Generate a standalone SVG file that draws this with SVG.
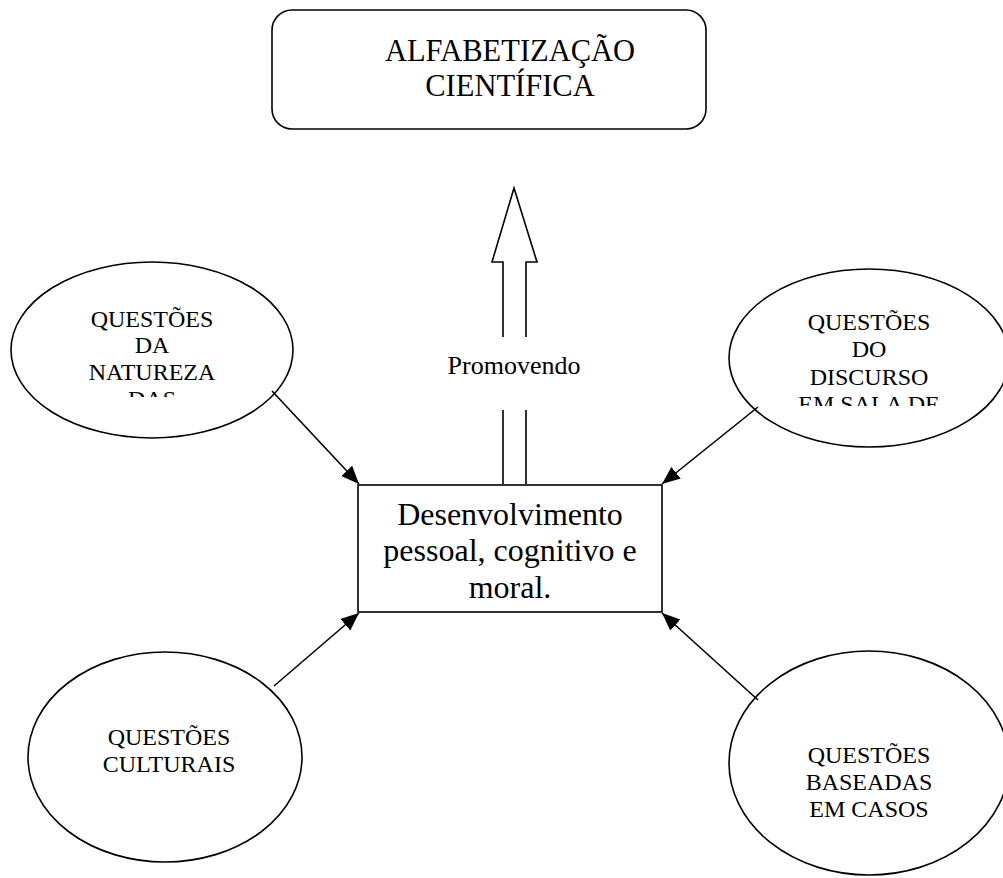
<svg xmlns="http://www.w3.org/2000/svg" width="1003" height="878" viewBox="0 0 1003 878">
  <style>
    .shape { fill: #ffffff; stroke: #000000; stroke-width: 1.6; }
    .line { fill: none; stroke: #000000; stroke-width: 1.6; }
    .t { font-family: "Liberation Serif", "Times New Roman", serif; fill: #000000; text-anchor: middle; }
    .title { font-size: 30.5px; }
    .center { font-size: 32px; }
    .topic { font-size: 24px; }
    .label { font-size: 26px; }
  </style>
  <defs>
    <marker id="head" markerUnits="userSpaceOnUse" markerWidth="20" markerHeight="16" refX="18" refY="7.5" orient="auto">
      <path d="M0,0 L18,7.5 L0,15 z" fill="#000000"/>
    </marker>
    <clipPath id="clip-natureza"><rect x="40" y="290" width="230" height="107"/></clipPath>
    <clipPath id="clip-discurso"><rect x="760" y="290" width="230" height="116"/></clipPath>
  </defs>
  <rect width="1003" height="878" fill="#ffffff"/>

  <!-- goal box -->
  <g id="alfabetizacao">
    <rect class="shape" x="272" y="10" width="434" height="119" rx="20" ry="20"/>
    <text class="t title" x="510" y="61">ALFABETIZAÇÃO</text>
    <text class="t title" x="510" y="96">CIENTÍFICA</text>
  </g>

  <!-- hollow block arrow with its label -->
  <g id="promovendo">
    <path class="line" d="M503,337 L503,262 L492,262 L514,188 L537,262 L526,262 L526,337"/>
    <path class="line" d="M503,410 L503,484 M526,410 L526,484"/>
    <text class="t label" x="514" y="374">Promovendo</text>
  </g>

  <!-- central box -->
  <g id="desenvolvimento">
    <rect class="shape" x="358" y="485" width="304" height="127"/>
    <text class="t center" x="510" y="525">Desenvolvimento</text>
    <text class="t center" x="510" y="561">pessoal, cognitivo e</text>
    <text class="t center" x="510" y="598">moral.</text>
  </g>

  <g id="natureza">
    <ellipse class="shape" cx="152" cy="350" rx="141" ry="88"/>
    <g clip-path="url(#clip-natureza)">
      <text class="t topic" x="152" y="327">QUESTÕES</text>
      <text class="t topic" x="152" y="353">DA</text>
      <text class="t topic" x="152" y="380">NATUREZA</text>
      <text class="t topic" x="152" y="407">DAS</text>
    </g>
  </g>

  <g id="discurso">
    <ellipse class="shape" cx="869" cy="358" rx="140" ry="89"/>
    <g clip-path="url(#clip-discurso)">
      <text class="t topic" x="869" y="330">QUESTÕES</text>
      <text class="t topic" x="869" y="357">DO</text>
      <text class="t topic" x="869" y="385">DISCURSO</text>
      <text class="t topic" x="869" y="412">EM SALA DE</text>
    </g>
  </g>

  <g id="culturais">
    <ellipse class="shape" cx="165" cy="757" rx="137" ry="105"/>
    <text class="t topic" x="169" y="745">QUESTÕES</text>
    <text class="t topic" x="169" y="772">CULTURAIS</text>
  </g>

  <g id="casos">
    <ellipse class="shape" cx="869" cy="763" rx="140" ry="112"/>
    <text class="t topic" x="869" y="763">QUESTÕES</text>
    <text class="t topic" x="869" y="790">BASEADAS</text>
    <text class="t topic" x="869" y="817">EM CASOS</text>
  </g>

  <!-- connectors into the central box -->
  <g id="connectors">
    <line class="line" x1="272" y1="391" x2="359" y2="484" marker-end="url(#head)"/>
    <line class="line" x1="274" y1="686" x2="359" y2="613" marker-end="url(#head)"/>
    <line class="line" x1="758" y1="407" x2="662" y2="484" marker-end="url(#head)"/>
    <line class="line" x1="758" y1="700" x2="662" y2="613" marker-end="url(#head)"/>
  </g>
</svg>
